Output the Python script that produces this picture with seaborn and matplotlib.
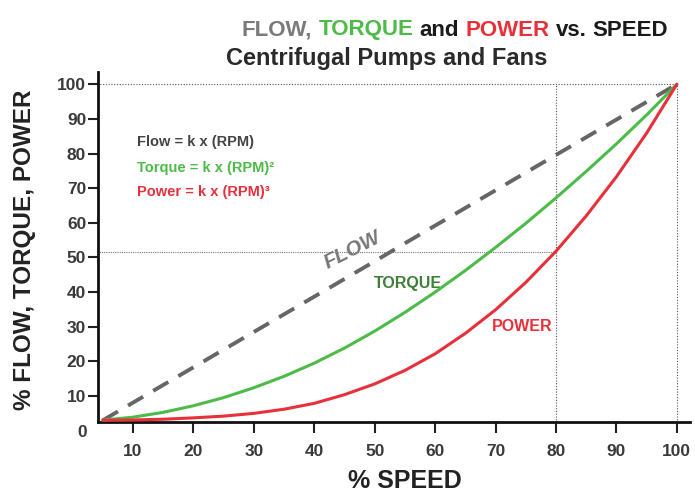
import matplotlib
matplotlib.use("Agg")
import matplotlib.pyplot as plt
import seaborn as sns
import pandas as pd

speed = [5, 10, 15, 20, 25, 30, 35, 40, 45, 50, 55, 60, 65, 70, 75, 80, 85, 90, 95, 100]
flow = [3, 8.1, 13.2, 18.3, 23.4, 28.5, 33.6, 38.7, 43.8, 48.9, 54.1, 59.2, 64.3, 69.4, 74.5, 79.6, 84.7, 89.8, 94.9, 100]
torque = [3.05, 3.9, 5.3, 7.2, 9.55, 12.4, 15.7, 19.5, 23.85, 28.75, 34.15, 40.0, 46.25, 52.9, 59.85, 67.2, 74.85, 82.8, 91.15, 100]
power = [3.0, 3.1, 3.3, 3.7, 4.2, 5.0, 6.2, 7.9, 10.4, 13.5, 17.4, 22.2, 28.1, 34.9, 42.8, 51.8, 62.0, 73.3, 85.9, 100]

y_ticks = [10, 20, 30, 40, 50, 60, 70, 80, 90, 100]
x_ticks = [10, 20, 30, 40, 50, 60, 70, 80, 90, 100]
ref_speed = 80
ref_level = 51.6

GREEN = "#4cbb47"
RED = "#e8303a"
DGREEN = "#3f7f3a"
TICKC = "#3a3a3a"

sns.set_theme(style="white")
plt.rcParams["font.family"] = ["Liberation Sans", "DejaVu Sans"]

fig = plt.figure(figsize=(6.95, 4.94), dpi=100)
ax = fig.add_axes([0.141, 0.1457, 0.852, 0.7083])

df = pd.DataFrame({"speed": speed, "flow": flow, "torque": torque, "power": power})

# reference (guide) lines
dot = (0, (1, 1.5))
ax.plot([speed[0] - 1, 100], [100, 100], color="#555555", lw=0.8, ls=dot)
ax.plot([100, 100], [0, 100], color="#555555", lw=0.8, ls=dot)
ax.plot([ref_speed, ref_speed], [0, 100], color="#555555", lw=0.8, ls=dot)
ax.plot([speed[0] - 1, ref_speed], [ref_level, ref_level], color="#777777", lw=0.8, ls=(0, (1, 1)))

sns.lineplot(data=df, x="speed", y="flow", color="#666666", lw=2.8, ax=ax,
             linestyle=(0, (4.5, 3)), zorder=3)
sns.lineplot(data=df, x="speed", y="torque", color=GREEN, lw=2.2, ax=ax, zorder=4)
sns.lineplot(data=df, x="speed", y="power", color=RED, lw=2.2, ax=ax, zorder=5)

ax.set_xlim(4.2, 102.2)
ax.set_ylim(2.5, 103.5)
ax.set_xticks(x_ticks)
ax.set_yticks(y_ticks)
ax.tick_params(axis="both", which="both", direction="out", width=1.5,
               color="#222222", labelsize=12.5, labelcolor=TICKC, bottom=True, left=True)
ax.tick_params(axis="x", length=8, pad=8)
ax.tick_params(axis="y", length=7, pad=1.5)
for lab in ax.get_xticklabels() + ax.get_yticklabels():
    lab.set_fontweight("bold")
ax.text(82 / 695, 1 - 432 / 494, "0", transform=fig.transFigure, ha="center", va="center",
        fontsize=12.5, fontweight="bold", color=TICKC)

for s in ["top", "right"]:
    ax.spines[s].set_visible(False)
for s in ["left", "bottom"]:
    ax.spines[s].set_color("#111111")
    ax.spines[s].set_linewidth(2)

ax.set_xlabel("")
ax.set_ylabel("")
fig.text(405 / 695, 1 - 481 / 494, "% SPEED", fontsize=18, fontweight="bold", color="#222222",
         ha="center", va="center")
fig.text(25 / 695, 1 - 250 / 494, "% FLOW, TORQUE, POWER", fontsize=17.5, fontweight="bold",
         color="#222222", ha="center", va="center", rotation=90)
ax.set_facecolor("white")

# formula legend
ax.text(10.7, 83.2, "Flow = k x (RPM)", fontsize=10.5, fontweight="bold", color="#444444", va="center")
ax.text(10.7, 75.8, "Torque = k x (RPM)²", fontsize=10.5, fontweight="bold", color=GREEN, va="center")
ax.text(10.7, 68.8, "Power = k x (RPM)³", fontsize=10.5, fontweight="bold", color=RED, va="center")

# curve labels
ax.text(46.3, 52.1, "FLOW", fontsize=15, fontweight="bold", fontstyle="italic", color="#777777",
        rotation=27, ha="center", va="center")
ax.text(55.5, 42.6, "TORQUE", fontsize=11.5, fontweight="bold", color=DGREEN, ha="center", va="center")
ax.text(74.4, 30.2, "POWER", fontsize=11.5, fontweight="bold", color=RED, ha="center", va="center")

# multicolour title
fig.canvas.draw()
r = fig.canvas.get_renderer()
pieces = [("FLOW,", "#7a7a7a"), ("TORQUE", GREEN), ("and", "#1a1a1a"), ("POWER", RED),
          ("vs.", "#1a1a1a"), ("SPEED", "#1a1a1a")]
tsize = 16
texts = [fig.text(0, 1 - 30 / 494, s, color=c, fontsize=tsize, fontweight="bold", va="center")
         for s, c in pieces]
widths = [t.get_window_extent(r).width for t in texts]
gap = 0.278 * tsize * 100 / 72
total = sum(widths) + gap * (len(widths) - 1)
x = 455 - total / 2
for t, w in zip(texts, widths):
    t.set_x(x / 695)
    x += w + gap

fig.text(387 / 695, 1 - 58 / 494, "Centrifugal Pumps and Fans", fontsize=17, fontweight="bold",
         color="#2a2a2a", ha="center", va="center")

fig.savefig("out.png", dpi=100, facecolor="white")
